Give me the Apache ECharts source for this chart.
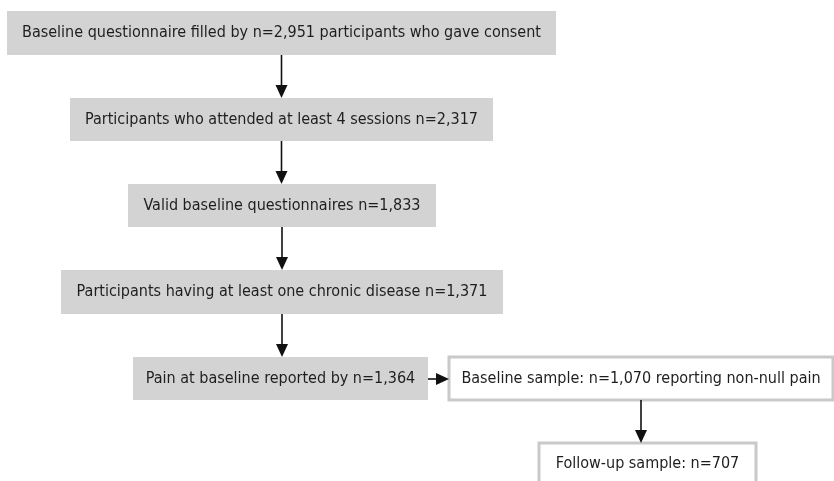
<!DOCTYPE html>
<html>
<head>
<meta charset="utf-8">
<script src="https://cdn.jsdelivr.net/npm/echarts@6/dist/echarts.min.js"></script>
<style>
html,body{margin:0;padding:0;background:#fff;}
#chart{width:834px;height:481px;}
</style>
</head>
<body>
<div id="chart"></div>
<script>
// Flowchart steps (text and counts)
const stepTexts = [
  "Baseline questionnaire filled by n=2,951 participants who gave consent",
  "Participants who attended at least 4 sessions n=2,317",
  "Valid baseline questionnaires n=1,833",
  "Participants having at least one chronic disease n=1,371",
  "Pain at baseline reported by n=1,364",
  "Baseline sample: n=1,070 reporting non-null pain",
  "Follow-up sample: n=707"
];
const stepCounts = [2951, 2317, 1833, 1371, 1364, 1070, 707];
const stepKind = ["grey", "grey", "grey", "grey", "grey", "white", "white"];
// Links between steps (from index, to index)
const linkFrom = [0, 1, 2, 3, 4, 5];
const linkTo   = [1, 2, 3, 4, 5, 6];

// Layout (page coordinates on hidden axes)
const boxX0 = [7, 70, 128, 61, 133, 449, 539];
const boxX1 = [556, 493, 436, 503, 428, 833, 756];
const boxY0 = [11, 98, 184, 270, 357, 357, 443];
const boxY1 = [55, 141, 227, 314, 400, 400, 490];
const linkDir = ["down", "down", "down", "down", "right", "down"];

const boxData = stepTexts.map((t, i) => [boxX0[i], boxY0[i], boxX1[i], boxY1[i], i]);
const linkData = linkFrom.map((f, i) => {
  const t = linkTo[i];
  if (linkDir[i] === "down") {
    const x = (boxX0[f] + boxX1[f]) / 2;
    return [x, boxY1[f], x, boxY0[t], i];
  } else {
    const y = (boxY0[f] + boxY1[f]) / 2 + 0.5;
    return [boxX1[f], y, boxX0[t], y, i];
  }
});

const FONT = "DejaVu Sans Condensed";
const chart = echarts.init(document.getElementById('chart'), null, {renderer: 'canvas'});
chart.setOption({
  animation: false,
  backgroundColor: '#ffffff',
  grid: {left: 0, right: 0, top: 0, bottom: 0},
  xAxis: {type: 'value', min: 0, max: 834, show: false},
  yAxis: {type: 'value', min: 0, max: 481, inverse: true, show: false},
  series: [
    {
      type: 'custom',
      data: boxData,
      clip: false,
      renderItem: function (params, api) {
        const p0 = api.coord([api.value(0), api.value(1)]);
        const p1 = api.coord([api.value(2), api.value(3)]);
        const i = api.value(4);
        const grey = stepKind[i] === 'grey';
        const cy = (boxY0[i] + boxY1[i]) / 2;
        const textY = i === 6 ? api.coord([0, boxY0[i] + 21])[1] : api.coord([0, cy])[1];
        return {
          type: 'group',
          children: [
            {
              type: 'rect',
              shape: {x: p0[0], y: p0[1], width: p1[0] - p0[0], height: p1[1] - p0[1]},
              style: grey ? {fill: '#d3d3d3', stroke: null}
                          : {fill: '#ffffff', stroke: '#c9c9c9', lineWidth: 3}
            },
            {
              type: 'text',
              style: {
                x: (p0[0] + p1[0]) / 2,
                y: textY,
                text: stepTexts[i],
                fill: '#1e1e1e',
                font: '16px "' + FONT + '"',
                align: 'center',
                verticalAlign: 'middle'
              }
            }
          ]
        };
      }
    },
    {
      type: 'custom',
      data: linkData,
      clip: false,
      renderItem: function (params, api) {
        const a = api.coord([api.value(0), api.value(1)]);
        const b = api.coord([api.value(2), api.value(3)]);
        const i = api.value(4);
        const L = 13, W = 6;
        let tri, lineEnd;
        if (linkDir[i] === 'down') {
          lineEnd = [b[0], b[1] - L];
          tri = [[b[0] - W, b[1] - L], [b[0] + W, b[1] - L], [b[0], b[1]]];
        } else {
          lineEnd = [b[0] - L, b[1]];
          tri = [[b[0] - L, b[1] - W], [b[0] - L, b[1] + W], [b[0], b[1]]];
        }
        return {
          type: 'group',
          children: [
            {type: 'line', shape: {x1: a[0], y1: a[1], x2: lineEnd[0], y2: lineEnd[1]},
             style: {stroke: '#111', lineWidth: 1.6}},
            {type: 'polygon', shape: {points: tri}, style: {fill: '#111'}}
          ]
        };
      }
    }
  ]
});
</script>
</body>
</html>
